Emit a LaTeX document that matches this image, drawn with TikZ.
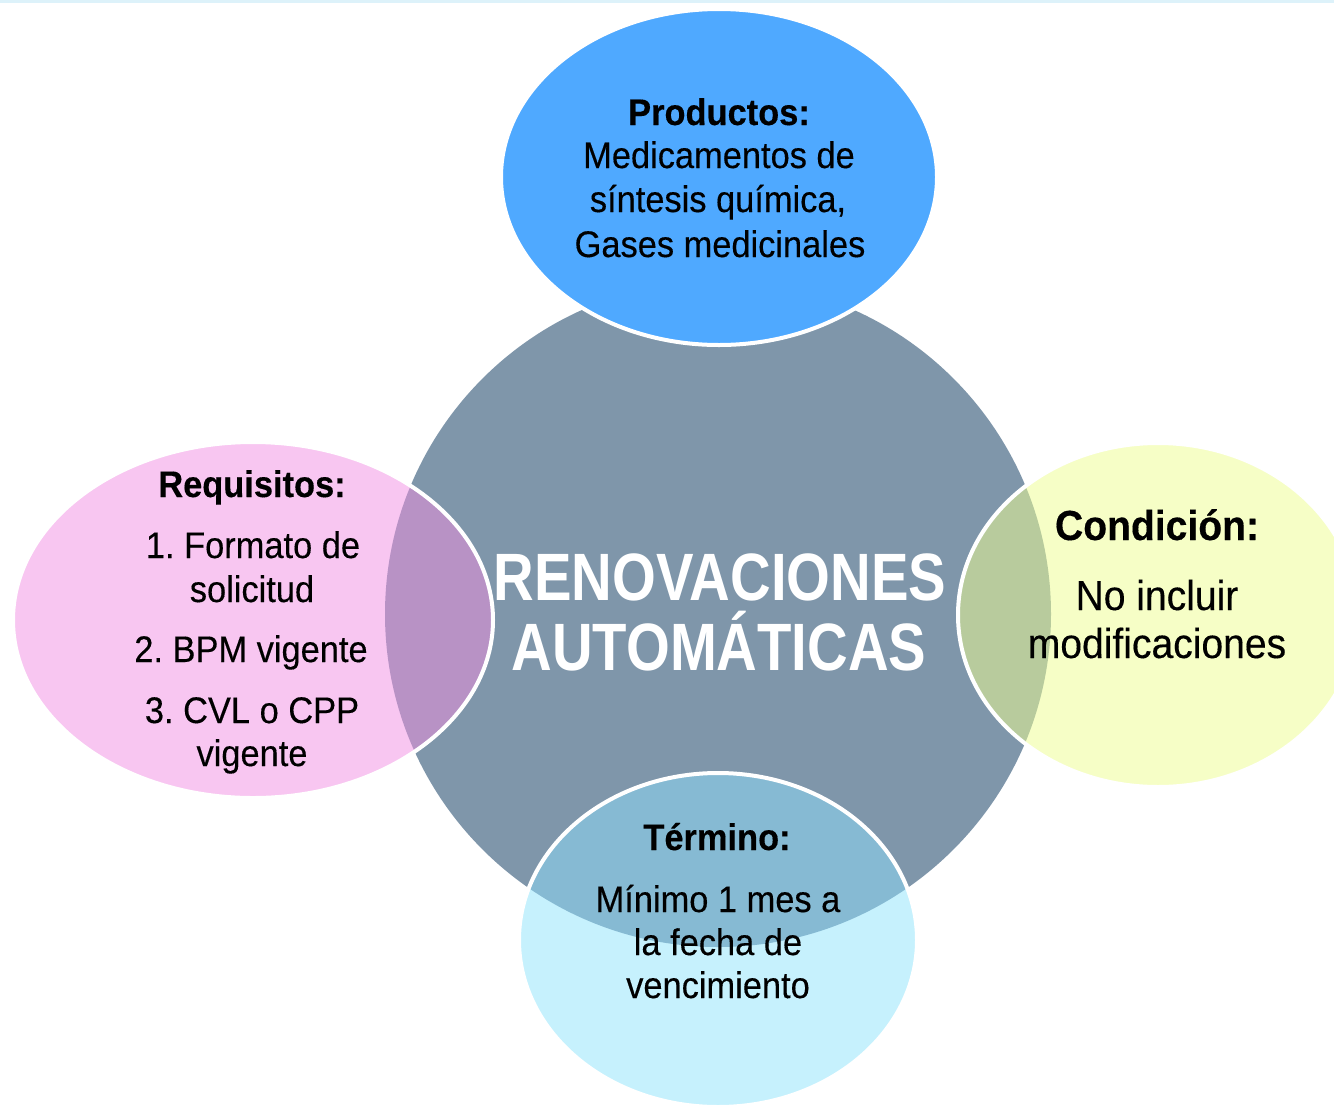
\documentclass[tikz,border=0pt]{standalone}
\usepackage{fontspec}
\setmainfont{Liberation Sans}[FakeStretch=0.93,FakeBold=0.3]
\newfontfamily\titlefont{Liberation Sans}[FakeStretch=0.84]
\frenchspacing
\definecolor{circc}{HTML}{7F96AA}
\definecolor{topc}{HTML}{4FA9FF}
\definecolor{pinkc}{HTML}{F8C6F1}
\definecolor{pinkov}{HTML}{B892C5}
\definecolor{yelc}{HTML}{F6FEC6}
\definecolor{yelov}{HTML}{B8CB9D}
\definecolor{cyanc}{HTML}{C6F1FD}
\definecolor{cyanov}{HTML}{86BAD3}
\definecolor{topline}{HTML}{DDF2FA}
\begin{document}
\begin{tikzpicture}[x=0.5pt,y=-0.5pt,
  body/.style={anchor=base, inner sep=0pt, font=\frenchspacing\fontsize{18.5}{22}\selectfont},
  bodyb/.style={anchor=base, inner sep=0pt, font=\frenchspacing\fontsize{18.5}{22}\selectfont\bfseries},
  big/.style={anchor=base, inner sep=0pt, font=\frenchspacing\fontsize{21}{24}\selectfont},
  bigb/.style={anchor=base, inner sep=0pt, font=\frenchspacing\fontsize{21}{24}\selectfont\bfseries},
  titletext/.style={anchor=base, inner sep=0pt, text=white, font=\titlefont\bfseries\fontsize{33.5}{35}\selectfont},
  rim/.style={draw=white, line width=2pt}]
\useasboundingbox (0,0) rectangle (1334,1104);
\clip (0,0) rectangle (1334,1104);
\fill[white] (0,0) rectangle (1334,1104);
\fill[topline] (0,0) rectangle (1334,3);
% central circle
\fill[circc] (718,614) circle [radius=333];
% top ellipse (opaque)
\fill[topc] (719,177) ellipse [x radius=218, y radius=168];
\draw[rim] (719,177) ellipse [x radius=218, y radius=168];
% left ellipse
\fill[pinkc] (253,620) ellipse [x radius=240, y radius=178];
\begin{scope}
  \clip (253,620) ellipse [x radius=240, y radius=178];
  \fill[pinkov] (718,614) circle [radius=333];
\end{scope}
\draw[rim] (253,620) ellipse [x radius=240, y radius=178];
% right ellipse
\fill[yelc] (1158,615) ellipse [x radius=200, y radius=172];
\begin{scope}
  \clip (1158,615) ellipse [x radius=200, y radius=172];
  \fill[yelov] (718,614) circle [radius=333];
\end{scope}
\draw[rim] (1158,615) ellipse [x radius=200, y radius=172];
% bottom ellipse
\fill[cyanc] (718,940) ellipse [x radius=199, y radius=167];
\begin{scope}
  \clip (718,940) ellipse [x radius=199, y radius=167];
  \fill[cyanov] (718,614) circle [radius=333];
\end{scope}
\draw[rim] (718,940) ellipse [x radius=199, y radius=167];
% title
\node[titletext] (t1) at (720,600) {RENOVACIONES};
\node[titletext] (t2) at (719,670) {AUTOMÁTICAS};
% top texts
\node[bodyb] (p0) at (719,125) {Productos:};
\node[body] (p1) at (719,168) {Medicamentos de};
\node[body] (p2) at (718,212) {síntesis química,};
\node[body] (p3) at (720,257) {Gases medicinales};
% left texts
\node[bodyb] (r0) at (252,497) {Requisitos:};
\node[body] (r1) at (253,558) {1. Formato de};
\node[body] (r2) at (252,602) {solicitud};
\node[body] (r3) at (251,662) {2. BPM vigente};
\node[body] (r4) at (252,723) {3. CVL o CPP};
\node[body] (r5) at (252,766) {vigente};
% right texts
\node[bigb] (c0) at (1157,540) {Condición:};
\node[big] (c1) at (1157,610) {No incluir};
\node[big] (c2) at (1157,658) {modificaciones};
% bottom texts
\node[bodyb] (b0) at (717,850) {Término:};
\node[body] (b1) at (718,912) {Mínimo 1 mes a};
\node[body] (b2) at (718,955) {la fecha de};
\node[body] (b3) at (718,998) {vencimiento};
\end{tikzpicture}
\end{document}
